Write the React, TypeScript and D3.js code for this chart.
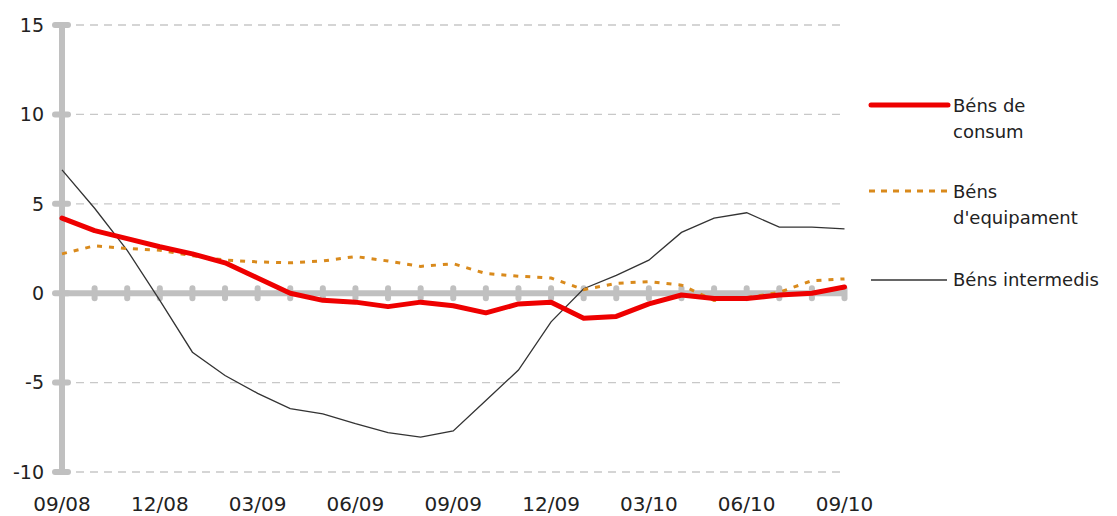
import React from "react";
import * as d3 from "d3";

const months = ["09/08","10/08","11/08","12/08","01/09","02/09","03/09","04/09","05/09","06/09","07/09","08/09","09/09","10/09","11/09","12/09","01/10","02/10","03/10","04/10","05/10","06/10","07/10","08/10","09/10"];
const consum = [4.2, 3.5, 3.05, 2.6, 2.2, 1.7, 0.85, 0.0, -0.4, -0.5, -0.75, -0.5, -0.7, -1.1, -0.6, -0.5, -1.4, -1.3, -0.6, -0.1, -0.3, -0.3, -0.1, 0.0, 0.35];
const equipament = [2.2, 2.65, 2.5, 2.4, 2.1, 1.85, 1.75, 1.7, 1.8, 2.05, 1.8, 1.5, 1.65, 1.1, 0.95, 0.85, 0.2, 0.55, 0.65, 0.45, -0.4, -0.25, 0.05, 0.7, 0.8];
const intermedis = [6.9, 4.75, 2.4, -0.4, -3.3, -4.6, -5.6, -6.45, -6.75, -7.3, -7.8, -8.05, -7.7, -6.0, -4.3, -1.6, 0.25, 1.0, 1.85, 3.4, 4.2, 4.5, 3.7, 3.7, 3.6];
const yTicks = [-10, -5, 0, 5, 10, 15];
const xLabelEvery = 3;

const W = 1117, H = 516;
const font = "DejaVu Sans, Verdana, sans-serif";

export default function App() {
  const x = d3.scaleLinear().domain([0, months.length - 1]).range([62, 844.5]);
  const y = d3.scaleLinear().domain([-10, 15]).range([472, 25]);
  const line = d3.line<number>().x((_, i) => x(i)).y(d => y(d));
  const axisGray = "#c0c0c0";
  return (
    <svg width={W} height={H} style={{ position: "absolute", left: 0, top: 0, background: "#fff" }}>
      {/* grid */}
      {yTicks.filter(t => t !== 0).map(t => (
        <line key={t} x1={x(0)} x2={x(months.length - 1)} y1={y(t)} y2={y(t)} stroke="#c8c8c8" strokeWidth={1.3} strokeDasharray="8,6" />
      ))}
      {/* y axis */}
      <line x1={x(0)} x2={x(0)} y1={y(15)} y2={y(-10)} stroke={axisGray} strokeWidth={6} />
      {yTicks.map(t => (
        <line key={"yt" + t} x1={55} x2={68} y1={y(t)} y2={y(t)} stroke={axisGray} strokeWidth={6} strokeLinecap="round" />
      ))}
      {/* zero axis */}
      <line x1={x(0)} x2={x(months.length - 1)} y1={y(0)} y2={y(0)} stroke={axisGray} strokeWidth={6} />
      {months.map((m, i) => i === 0 ? null : (
        <line key={"xt" + m} x1={x(i)} x2={x(i)} y1={y(0) - 5} y2={y(0) + 5} stroke={axisGray} strokeWidth={6} strokeLinecap="round" />
      ))}
      {/* y labels */}
      {yTicks.map(t => (
        <text key={"yl" + t} x={44} y={y(t)} dy="0.36em" textAnchor="end" fontFamily={font} fontSize={19} fill="#222">{t}</text>
      ))}
      {/* x labels */}
      {months.map((m, i) => i % xLabelEvery === 0 ? (
        <text key={"xl" + m} x={x(i)} y={511} textAnchor="middle" fontFamily={font} fontSize={20} fill="#222">{m}</text>
      ) : null)}
      {/* series */}
      <path d={line(intermedis) || ""} fill="none" stroke="#333" strokeWidth={1.3} />
      <path d={line(equipament) || ""} fill="none" stroke="#d98a1c" strokeWidth={3} strokeDasharray="5,7" />
      <path d={line(consum) || ""} fill="none" stroke="#ee0000" strokeWidth={5} strokeLinejoin="round" strokeLinecap="round" />
      {/* legend */}
      <line x1={871} x2={948} y1={105} y2={105} stroke="#ee0000" strokeWidth={5} strokeLinecap="round" />
      <text x={953} y={112} fontFamily={font} fontSize={18} fill="#222">Béns de</text>
      <text x={953} y={138} fontFamily={font} fontSize={18} fill="#222">consum</text>
      <line x1={869} x2={950} y1={191} y2={191} stroke="#d98a1c" strokeWidth={3} strokeDasharray="6,6" />
      <text x={953} y={198} fontFamily={font} fontSize={18} fill="#222">Béns</text>
      <text x={953} y={224} fontFamily={font} fontSize={18} fill="#222">d'equipament</text>
      <line x1={871} x2={947} y1={280} y2={280} stroke="#333" strokeWidth={1.3} />
      <text x={953} y={286} fontFamily={font} fontSize={18} fill="#222">Béns intermedis</text>
    </svg>
  );
}
